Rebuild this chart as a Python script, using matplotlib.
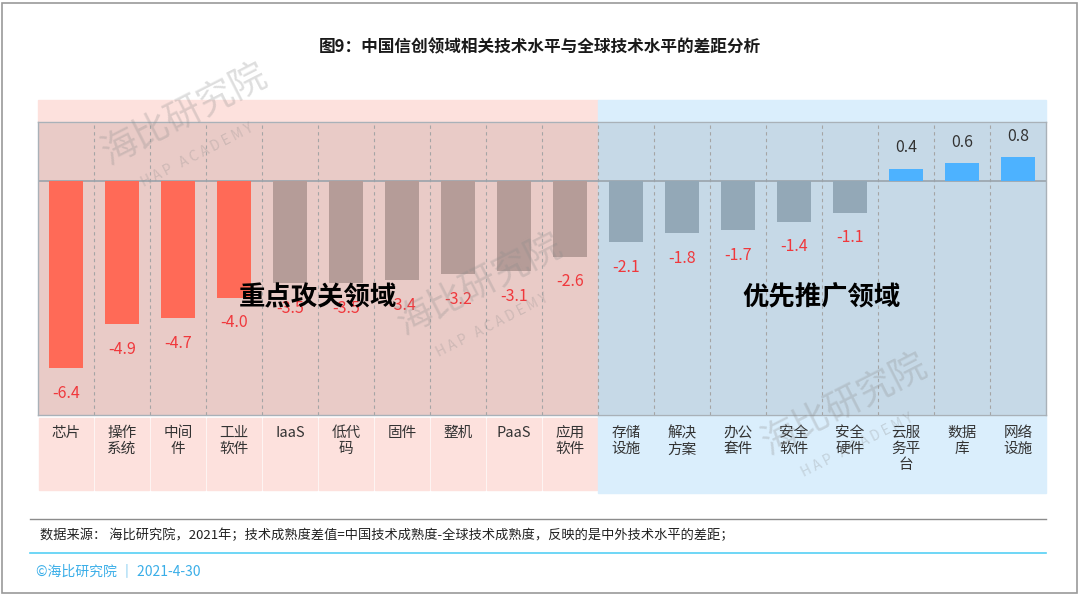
import numpy as np
import matplotlib.pyplot as plt
from matplotlib.patches import Rectangle

plt.rcParams['font.family'] = ['Noto Sans CJK SC', 'DejaVu Sans']

categories = ['芯片', '操作\n系统', '中间\n件', '工业\n软件', 'IaaS', '低代\n码', '固件', '整机', 'PaaS', '应用\n软件',
              '存储\n设施', '解决\n方案', '办公\n套件', '安全\n软件', '安全\n硬件', '云服\n务平\n台', '数据\n库', '网络\n设施']
values = [-6.4, -4.9, -4.7, -4.0, -3.5, -3.5, -3.4, -3.2, -3.1, -2.6,
          -2.1, -1.8, -1.7, -1.4, -1.1, 0.4, 0.6, 0.8]
bar_colors = ['#FF6A57'] * 4 + ['#B59C98'] * 6 + ['#93A8B7'] * 5 + ['#4DB2FF'] * 3
region_names = ['重点攻关领域', '优先推广领域']
title = '图9：中国信创领域相关技术水平与全球技术水平的差距分析'
source = '数据来源： 海比研究院，2021年；技术成熟度差值=中国技术成熟度-全球技术成熟度，反映的是中外技术水平的差距；'
footer = '©海比研究院 ｜ 2021-4-30'

W, H = 1080, 596
fig = plt.figure(figsize=(W / 100, H / 100), dpi=100)
fig.patch.set_facecolor('white')

# whole-image frame
fig.patches.append(Rectangle((2 / W, 3 / H), 1075 / W, 590 / H, transform=fig.transFigure,
                             fill=False, edgecolor='#9A9A9A', lw=1.2))

ax = fig.add_axes([38 / W, (H - 415) / H, 1008 / W, 293 / H])
n = len(categories)
x = np.arange(n)
split = 9.5
ax.set_xlim(-0.5, n - 0.5)
ax.set_ylim(-8, 2)
ax.set_facecolor('none')

tr = ax.get_xaxis_transform()
ah = 293.0
# plot area fills
ax.add_patch(Rectangle((-0.5, 0), split + 0.5, 1, transform=tr, color='#E9CBC7', zorder=0))
ax.add_patch(Rectangle((split, 0), n - 0.5 - split, 1, transform=tr, color='#C6D9E7', zorder=0))
# top light band
ax.add_patch(Rectangle((-0.5, 1), split + 0.5, 22 / ah, transform=tr, color='#FDE1DD', clip_on=False, zorder=0))
ax.add_patch(Rectangle((split, 1), n - 0.5 - split, 22 / ah, transform=tr, color='#DAEEFC', clip_on=False, zorder=0))
# category label cells
for i in range(n):
    if i < 10:
        ax.add_patch(Rectangle((i - 0.5 + 0.02, -75 / ah), 0.96, 72 / ah, transform=tr,
                               color='#FDE1DD', clip_on=False, zorder=0))
ax.add_patch(Rectangle((split, -78 / ah), n - 0.5 - split, 78 / ah, transform=tr,
                       color='#DAEEFC', clip_on=False, zorder=0))

for k in np.arange(0.5, n - 1, 1.0):
    ax.axvline(k, color='#A5A5A5', lw=0.8, ls=(0, (3, 3)), zorder=1)
ax.axhline(0, color='#9AA3AB', lw=1.2, zorder=1)

ax.bar(x, values, width=0.6, color=bar_colors, zorder=2)

for xi, v in zip(x, values):
    if v < 0:
        ax.annotate(f'{v:.1f}', (xi, v), xytext=(0, -12), textcoords='offset points',
                    ha='center', va='top', fontsize=11.5, color='#F0383C', zorder=3)
    else:
        ax.annotate(f'{v:.1f}', (xi, v), xytext=(0, 9), textcoords='offset points',
                    ha='center', va='bottom', fontsize=11.5, color='#333333', zorder=3)

for xi, lab in zip(x, categories):
    ax.text(xi, -11 / ah, lab, transform=tr, ha='center', va='top', fontsize=10.5,
            color='#333333', linespacing=1.2)

ax.text(4.5, -4.0, region_names[0], ha='center', va='center', fontsize=19,
        fontweight='bold', color='black', zorder=4)
ax.text(13.5, -4.0, region_names[1], ha='center', va='center', fontsize=19,
        fontweight='bold', color='black', zorder=4)

for s in ax.spines.values():
    s.set_color('#A9B1B8')
    s.set_linewidth(1.0)
ax.set_xticks([])
ax.set_yticks([])

# watermarks
for wx, wy in [(185, 115), (480, 285), (845, 405)]:
    fig.text(wx / W, 1 - wy / H, '海比研究院', fontsize=26, rotation=27, color='#8A8A8A',
             alpha=0.28, ha='center', va='center', zorder=5)
    fig.text((wx + 12) / W, 1 - (wy + 40) / H, 'H A P   A C A D E M Y', fontsize=10, rotation=27,
             color='#8A8A8A', alpha=0.28, ha='center', va='center', zorder=5)

fig.text(540 / W, 1 - 47 / H, title, ha='center', va='center', fontsize=12,
         fontweight='bold', color='#1A1A1A')

fig.add_artist(plt.Line2D([30 / W, 1046 / W], [1 - 519 / H] * 2, color='#8C8C8C', lw=1.0))
fig.text(40 / W, 1 - 535 / H, source, ha='left', va='center', fontsize=9.5, color='#222222')
fig.add_artist(plt.Line2D([30 / W, 1046 / W], [1 - 553 / H] * 2, color='#55D0F5', lw=1.2))
fig.text(36 / W, 1 - 571 / H, footer, ha='left', va='center', fontsize=10, color='#3AAEE8')

fig.savefig('out.png', dpi=100)
